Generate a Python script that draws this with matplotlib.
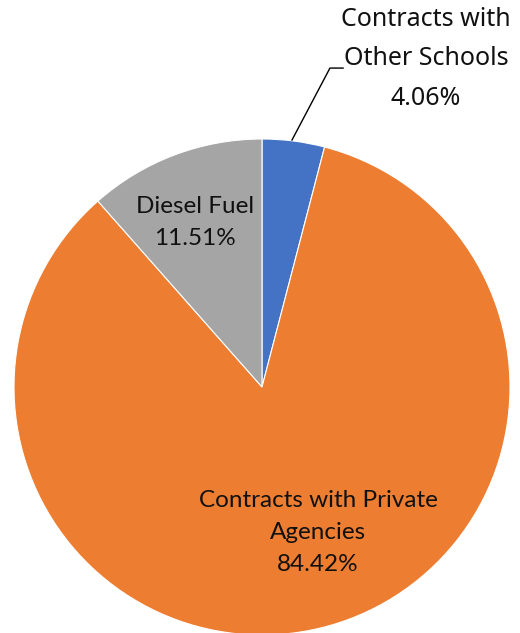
import numpy as np
from matplotlib import pyplot as plt

labels = ["Contracts with\nOther Schools", "Contracts with Private\nAgencies", "Diesel Fuel"]
shares = [4.06, 84.42, 11.51]
colors = ["#4472C4", "#ED7D31", "#A5A5A5"]

fig = plt.figure(figsize=(5.2, 6.33), dpi=100)
# axes box sized so that the unit circle lands where the reference pie is
ax = fig.add_axes([14/520, (633-635)/633, 496/520, 496/633])
wedges, _ = ax.pie(shares, colors=colors, startangle=90, counterclock=False,
                   radius=1, wedgeprops=dict(edgecolor="white", linewidth=0.8))
ax.set_xlim(-1, 1)
ax.set_ylim(-1, 1)
ax.set_aspect("equal")
ax.axis("off")

def pct(v):
    return "{:.2f}%".format(v)

ax.text(-0.27, 0.665, labels[2] + "\n" + pct(shares[2]), ha="center", va="center",
        fontsize=17.5, family="Lato", linespacing=1.65, color="#111111")
ax.text(0.226, -0.585, labels[1] + "\n" + pct(shares[1]), ha="center", va="center",
        fontsize=17.5, family="Lato", linespacing=1.65, color="#111111")

# outside label with leader line for the small slice
ax.text(0.661, 1.323, labels[0] + "\n" + pct(shares[0]), ha="center", va="center",
        fontsize=18, family="Noto Sans", linespacing=1.75, color="#111111", clip_on=False)
ax.plot([0.121, 0.274, 0.327], [0.996, 1.286, 1.286], color="black", lw=1, clip_on=False)

fig.savefig("out.png", dpi=100)
